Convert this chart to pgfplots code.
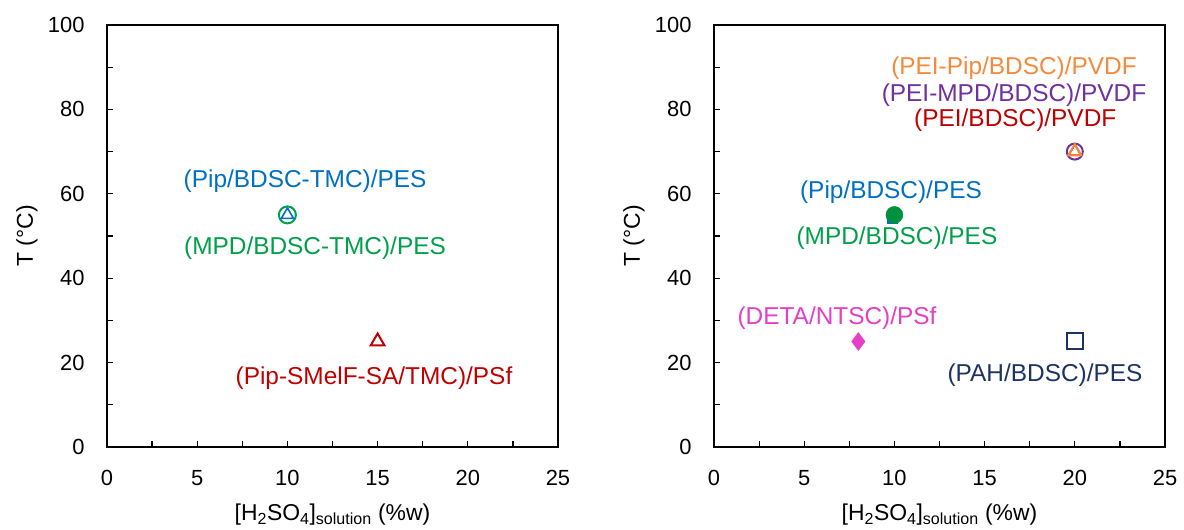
\documentclass[border=0pt]{standalone}
\usepackage{pgfplots}
\pgfplotsset{compat=1.18}
\usepackage{fontspec}
\setmainfont{Liberation Sans}
\definecolor{cblue}{HTML}{0070C0}
\definecolor{cgreen}{HTML}{00A04A}
\definecolor{cgreenm}{HTML}{00913F}
\definecolor{cred}{HTML}{C00000}
\definecolor{corange}{HTML}{F58A3C}
\definecolor{cpurple}{HTML}{7030A0}
\definecolor{cmag}{HTML}{E43FC6}
\definecolor{cnavy}{HTML}{1F3264}
\tikzset{lab/.style={font=\fontsize{24.5}{26}\selectfont, anchor=center}}
\pgfplotsset{
  myax/.style={
    scale only axis, width=451bp, height=422bp,
    xmin=0, xmax=25, ymin=0, ymax=100,
    xtick={0,5,...,25}, ytick={0,20,...,100},
    minor x tick num=1, minor y tick num=1,
    tick align=inside, tick pos=left,
    major tick length=6bp, minor tick length=6bp,
    every tick/.style={line width=1.2bp, black},
    axis line style={line width=1.6bp},
    /pgf/number format/assume math mode=true,
    ticklabel style={font=\fontsize{22}{24}\selectfont},
    xticklabel style={yshift=-20bp},
    yticklabel style={xshift=-19bp},
    label style={font=\fontsize{23}{25}\selectfont},
    xlabel={[H\textsubscript{2}SO\textsubscript{4}]\textsubscript{solution} (\%w)},
    ylabel={T (°C)},
    xlabel style={at={(axis description cs:0.5,0)}, anchor=center, yshift=-68bp},
    ylabel style={at={(axis description cs:0,0.5)}, anchor=center, yshift=80bp},
    clip=false,
  },
}
\begin{document}
\begin{tikzpicture}
\useasboundingbox (-107bp,-83bp) rectangle (1077bp,447bp);
\begin{axis}[myax]
\addplot[only marks, mark=o, mark size=8.5bp, cgreen, line width=2bp] coordinates {(10,55)};
\addplot[only marks, mark=triangle, mark size=7bp, cblue, line width=1.6bp] coordinates {(10,55)};
\addplot[only marks, mark=triangle, mark size=8bp, cred, line width=2bp] coordinates {(15,25)};
\node[lab, text=cblue] at (axis cs:10.98,63.0) {(Pip/BDSC-TMC)/PES};
\node[lab, text=cgreen] at (axis cs:11.53,47.2) {(MPD/BDSC-TMC)/PES};
\node[lab, text=cred] at (axis cs:14.8,16.4) {(Pip-SMelF-SA/TMC)/PSf};
\end{axis}
\begin{axis}[myax, xshift=607bp]
\addplot[only marks, mark=square*, mark size=5bp, cblue] coordinates {(9.9,54.2)};
\addplot[only marks, mark=*, mark size=8.5bp, cgreenm] coordinates {(10,55)};
\addplot[only marks, mark=o, mark size=8bp, cpurple, line width=2bp] coordinates {(20,70)};
\addplot[only marks, mark=triangle, mark size=7bp, cred, line width=1.6bp] coordinates {(20,70)};
\addplot[only marks, mark=triangle, mark size=7.5bp, corange, line width=2bp] coordinates {(20,70)};
\addplot[only marks, mark=diamond*, mark size=9bp, cmag] coordinates {(8,25)};
\addplot[only marks, mark=square, mark size=8bp, cnavy, line width=2bp] coordinates {(20,25)};
\node[lab, text=corange] at (axis cs:16.63,89.8) {(PEI-Pip/BDSC)/PVDF};
\node[lab, text=cpurple] at (axis cs:16.63,83.4) {(PEI-MPD/BDSC)/PVDF};
\node[lab, text=cred] at (axis cs:16.7,77.5) {(PEI/BDSC)/PVDF};
\node[lab, text=cblue] at (axis cs:9.81,60.4) {(Pip/BDSC)/PES};
\node[lab, text=cgreen] at (axis cs:10.14,49.5) {(MPD/BDSC)/PES};
\node[lab, text=cmag] at (axis cs:6.82,30.6) {(DETA/NTSC)/PSf};
\node[lab, text=cnavy] at (axis cs:18.35,17.1) {(PAH/BDSC)/PES};
\end{axis}
\end{tikzpicture}
\end{document}
